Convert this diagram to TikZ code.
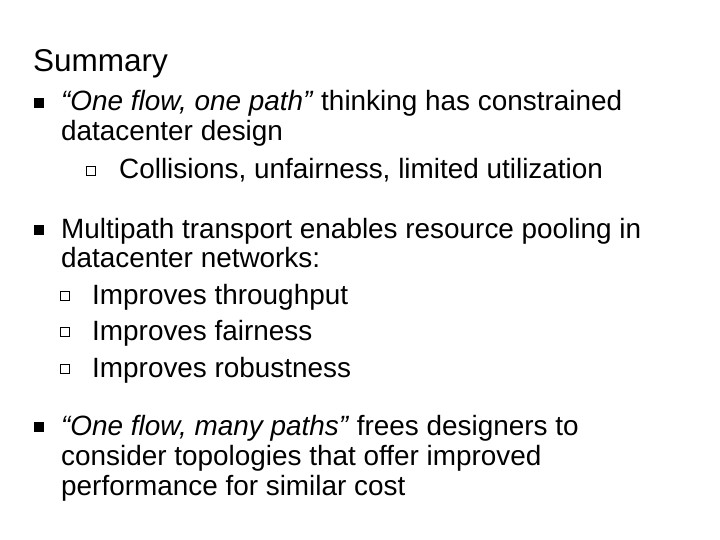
\documentclass[tikz,border=0pt]{standalone}
\usepackage{fontspec}
\setmainfont{Liberation Sans}
\begin{document}
\begin{tikzpicture}[x=1pt,y=1pt,
  txt/.style={anchor=base west,inner sep=0pt,font=\fontsize{27.9}{32}\selectfont},
  mainb/.style={fill=black,minimum size=10pt,inner sep=0pt},
  subb/.style={draw=black,line width=1.2pt,minimum size=9pt,inner sep=0pt}]
\useasboundingbox (0,0) rectangle (720,-540);
\node[txt,font=\fontsize{31.5}{36}\selectfont] (title) at (33,-72) {Summary};
% block 1
\node[mainb] (b1) at (39,-103) {};
\node[txt] (l11) at (61,-111) {\textit{“One flow, one path”} thinking has constrained};
\node[txt] (l12) at (61,-141) {datacenter design};
\node[subb] (s11) at (91,-171) {};
\node[txt] (l13) at (119,-179) {Collisions, unfairness, limited utilization};
% block 2
\node[mainb] (b2) at (39,-230) {};
\node[txt] (l21) at (61,-238) {Multipath transport enables resource pooling in};
\node[txt] (l22) at (61,-267) {datacenter networks:};
\node[subb] (s21) at (65,-296) {};
\node[txt] (l23) at (92,-304) {Improves throughput};
\node[subb] (s22) at (65,-332) {};
\node[txt] (l24) at (92,-340) {Improves fairness};
\node[subb] (s23) at (65,-369) {};
\node[txt] (l25) at (92,-377) {Improves robustness};
% block 3
\node[mainb] (b3) at (39,-427) {};
\node[txt] (l31) at (61,-435) {\textit{“One flow, many paths”} frees designers to};
\node[txt] (l32) at (61,-465) {consider topologies that offer improved};
\node[txt] (l33) at (61,-495) {performance for similar cost};
\end{tikzpicture}
\end{document}
